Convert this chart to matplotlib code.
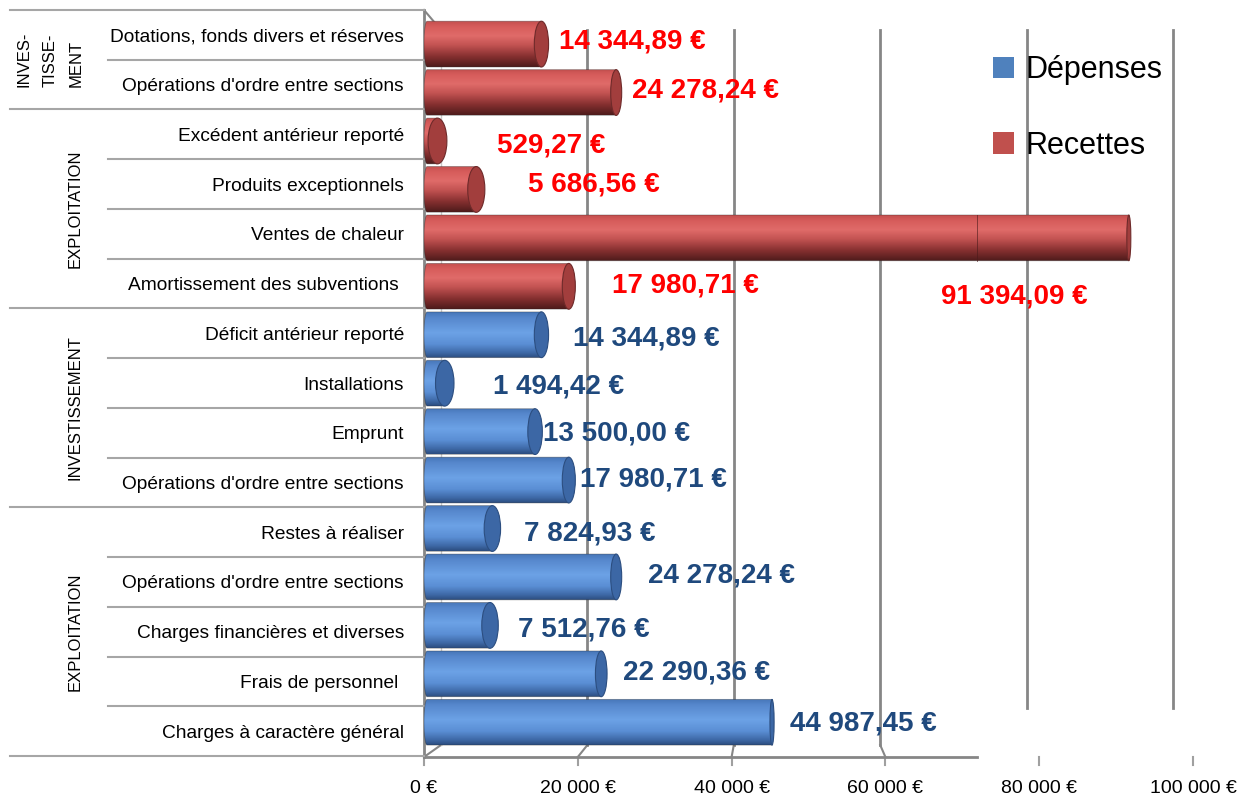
import numpy as np
import matplotlib as mpl
mpl.use("Agg")
from matplotlib import pyplot as plt
from matplotlib.path import Path
from matplotlib.patches import PathPatch, Ellipse, Patch
from matplotlib.colors import LinearSegmentedColormap

plt.rcParams['font.family'] = ['Liberation Sans', 'DejaVu Sans']

# recettes (barres rouges, en haut du graphique)
recettes_noms = ["Dotations, fonds divers et réserves",
                 "Opérations d'ordre entre sections",
                 "Excédent antérieur reporté",
                 "Produits exceptionnels",
                 "Ventes de chaleur",
                 "Amortissement des subventions "]
recettes_valeurs = [14344.89, 24278.24, 529.27, 5686.56, 91394.09, 17980.71]

# dépenses (barres bleues)
depenses_noms = ["Déficit antérieur reporté",
                 "Installations",
                 "Emprunt",
                 "Opérations d'ordre entre sections",
                 "Restes à réaliser",
                 "Opérations d'ordre entre sections",
                 "Charges financières et diverses",
                 "Frais de personnel ",
                 "Charges à caractère général"]
depenses_valeurs = [14344.89, 1494.42, 13500.00, 17980.71, 7824.93,
                    24278.24, 7512.76, 22290.36, 44987.45]

groupes = ["INVES-\nTISSE-\nMENT", "EXPLOITATION", "INVESTISSEMENT", "EXPLOITATION"]
groupes_taille = [2, 4, 4, 5]
graduations = [0, 20000, 40000, 60000, 80000, 100000]
legende = ["Dépenses", "Recettes"]


def euro(v):
    return f"{v:,.2f}".replace(",", " ").replace(".", ",") + " €"


# géométrie en pixels de la figure (le graphique Excel est en 3D)
W, H = 1252, 800
AX_L, AX_R = 424, 1193
AX_T, AX_B = 10, 756
BACK_L, BACK_R = 441, 1173
BACK_T, BACK_B = 30, 745
FLOOR_Y, FLOOR_R = 757, 977

noms = recettes_noms + depenses_noms
valeurs = recettes_valeurs + depenses_valeurs
n = len(noms)

fig = plt.figure(figsize=(W / 100, H / 100), dpi=100)
ax = fig.add_axes([AX_L / W, 1 - AX_B / H, (AX_R - AX_L) / W, (AX_B - AX_T) / H])
xmax = graduations[-1]
ax.set_xlim(0, xmax)
ax.set_ylim(n - 0.5, -0.5)
ax.set_autoscale_on(False)

dpx = xmax / (AX_R - AX_L)
dpy = n / (AX_B - AX_T)


def fx(p):
    return (p - AX_L) * dpx


def fy(p):
    return -0.5 + (p - AX_T) * dpy


def back_x(v):
    return fx(BACK_L + v * (BACK_R - BACK_L) / xmax)


gris = '#868686'
# murs / quadrillage
for v in graduations[1:]:
    bas = BACK_B if back_x(v) < fx(FLOOR_R) else 708
    ax.plot([back_x(v), back_x(v)], [fy(BACK_T), fy(bas)], color=gris, lw=2, zorder=1, clip_on=False)
for v in graduations:
    if v <= fx(FLOOR_R):
        ax.plot([back_x(v), v], [fy(BACK_B), fy(FLOOR_Y)], color=gris, lw=1.5, zorder=1, clip_on=False)
    ax.plot([v, v], [fy(FLOOR_Y), fy(FLOOR_Y + 8)], color='#a0a0a0', lw=1.5, clip_on=False)
ax.plot([fx(BACK_L), fx(BACK_L)], [fy(BACK_T), fy(BACK_B)], color='#c8c8c8', lw=1, zorder=1, clip_on=False)
ax.plot([0, fx(BACK_L)], [fy(AX_T), fy(BACK_T)], color=gris, lw=1.5, zorder=1, clip_on=False)
ax.plot([0, 0], [fy(AX_T), fy(FLOOR_Y)], color=gris, lw=2, zorder=2, clip_on=False)
ax.plot([0, fx(FLOOR_R)], [fy(FLOOR_Y), fy(FLOOR_Y)], color=gris, lw=2, zorder=2, clip_on=False)

# cylindres
cm_bleu = LinearSegmentedColormap.from_list('bleu', [(0, '#4676b8'), (0.12, '#5687cc'), (0.45, '#6ca2e6'),
                                                     (0.7, '#5a8ed4'), (0.88, '#3f6aa8'), (1, '#2b4c7e')])
cm_rouge = LinearSegmentedColormap.from_list('rouge', [(0, '#c44f4e'), (0.12, '#d65c5b'), (0.32, '#e06b69'),
                                                       (0.52, '#c35352'), (0.76, '#883131'), (1, '#4d1b1b')])
grad = np.linspace(0, 1, 256).reshape(-1, 1)
h = 0.92

for i, v in enumerate(valeurs):
    rouge = i < len(recettes_valeurs)
    cmap = cm_rouge if rouge else cm_bleu
    # effet de perspective : les barres se rapprochent du milieu
    yc = i - 0.026 * (AX_T + (i + 0.5) / dpy - 390) * dpy
    w = max(4.0, 19 - 0.00033 * v)  # largeur du couvercle en pixels
    xe = v + w / 2 * dpx
    rl = 3 * dpx
    s = np.linspace(0, np.pi, 30)
    gauche = np.column_stack([rl - rl * np.sin(s), yc - h / 2 * np.cos(s)])
    verts = np.vstack([[xe, yc - h / 2], gauche, [xe, yc + h / 2], [xe, yc - h / 2]])
    contour = PathPatch(Path(verts), transform=ax.transData, facecolor='none',
                        edgecolor='#20202060', lw=0.6, zorder=3.5)
    ax.add_patch(contour)
    im = ax.imshow(grad, cmap=cmap, extent=(0, xe, yc + h / 2, yc - h / 2), aspect='auto',
                   origin='upper', interpolation='bilinear', zorder=3)
    im.set_clip_path(contour)
    if xe > fx(FLOOR_R):
        ax.plot([fx(FLOOR_R)] * 2, [yc - h / 2, yc + h / 2], color='#4a1a1a', lw=0.7, alpha=0.6, zorder=3.6)
    couvercle = '#a23e3d' if rouge else '#3c67a5'
    bord = '#6e2a2a' if rouge else '#2c4e80'
    ax.add_patch(Ellipse((xe, yc), w * dpx, h, facecolor=couvercle, edgecolor=bord, lw=0.8, zorder=4))

# étiquettes de valeurs (décalages en pixels, comme placées dans Excel)
label_dx = [24.7, 21.3, 68.9, 60.3, -185.8, 49.7,
            38.7, 57.5, 15.2, 17.7, 39.8, 37.3, 36.2, 27.6, 20]
label_dy = [7, 5.5, 11, 0, 63, 2,
            5, 3, 1, -2.5, 1, -6, -2, -9, -8]
for i, v in enumerate(valeurs):
    couleur = '#ff0000' if i < len(recettes_valeurs) else '#1f497d'
    ax.annotate(euro(v), xy=(v, i), xytext=(label_dx[i], -label_dy[i]), textcoords='offset pixels',
                ha='left', va='center', fontsize=20, fontweight='bold', color=couleur, zorder=6)

# axe des catégories
ax.set_yticks(range(n))
ax.set_yticklabels(noms, fontsize=13.8)
ax.tick_params(axis='y', length=0, pad=14.4)
ax.set_xticks(graduations)
ax.set_xticklabels([euro(g).replace(",00", "") if g else "0 €" for g in graduations], fontsize=14)
ax.tick_params(axis='x', length=0, pad=17)
for sp in ax.spines.values():
    sp.set_visible(False)

# séparateurs et groupes
limites = np.cumsum([0] + groupes_taille) - 0.5
for b in np.arange(n + 1) - 0.5:
    debut = 10 if b in limites else 108
    ax.plot([fx(debut), 0], [b, b], color='#a6a6a6', lw=1.5, clip_on=False, zorder=2)
for k, nom in enumerate(groupes):
    yg = (limites[k] + limites[k + 1]) / 2
    xg = 50 if "\n" in nom else 75
    ax.text(fx(xg), yg, nom, rotation=90, ha='center', va='center', multialignment='left',
            fontsize=12, linespacing=1.9, clip_on=False)

# légende
poignees = [Patch(facecolor='#4f81bd'), Patch(facecolor='#c0504d')]
fig.legend(poignees, legende, loc='upper left', bbox_to_anchor=(993 / W, 1 - 55 / H), frameon=False,
           fontsize=22, handlelength=0.7, handleheight=0.7, handletextpad=0.35,
           labelspacing=1.5, borderaxespad=0, borderpad=0)

fig.savefig("out.png", dpi=100)
